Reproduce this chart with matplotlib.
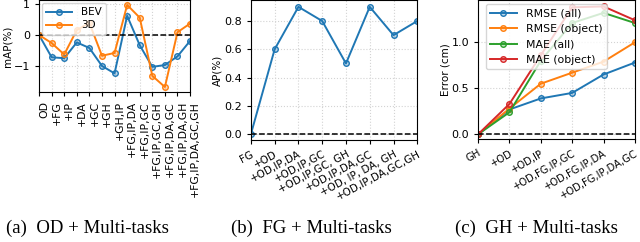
import matplotlib.pyplot as plt
import matplotlib.colors as mcolors

# (a) OD + multi-tasks
a_labels = ['OD', '+FG', '+IP', '+DA', '+GC', '+GH', '+GH,IP', '+FG,IP,DA',
            '+FG,IP,GC', '+FG,IP,GC,GH', '+FG,IP,DA,GC', '+FG,IP,DA,GH',
            '+FG,IP,DA,GC,GH']
a_bev = [0.0, -0.72, -0.75, -0.24, -0.42, -1.0, -1.24, 0.62, -0.33, -1.03,
         -0.97, -0.69, -0.19]
a_3d = [0.0, -0.26, -0.63, 0.16, 0.39, -0.67, -0.58, 0.97, 0.56, -1.32,
        -1.68, 0.09, 0.37]

# (b) FG + multi-tasks
b_labels = ['FG', '+OD', '+OD,IP,DA', '+OD,IP,GC', '+OD,IP,GC, GH',
            '+OD,IP,DA,GC', '+OD, IP, DA, GH', '+OD,IP,DA,GC,GH']
b_ap = [0.0, 0.6, 0.9, 0.8, 0.5, 0.9, 0.7, 0.8]

# (c) GH + multi-tasks
c_labels = ['GH', '+OD', '+OD,IP', '+OD,FG,IP,GC', '+OD,FG,IP,DA',
            '+OD,FG,IP,DA,GC']
c_rmse_all = [0.0, 0.27, 0.39, 0.45, 0.65, 0.78]
c_rmse_obj = [0.0, 0.28, 0.55, 0.67, 0.79, 1.0]
c_mae_all = [0.0, 0.24, 0.80, 1.21, 1.32, 1.21]
c_mae_obj = [0.0, 0.33, 0.86, 1.38, 1.39, 1.24]

fs = 7.5


def line(ax, y, color, label=None):
    ax.plot(range(len(y)), y, color=color, lw=1.4, marker='o', ms=4,
            mec=color, mfc=mcolors.to_rgba(color, 0.3), label=label)


def style(ax, labels, rot, ha, size=fs):
    ax.set_xticks(range(len(labels)))
    ax.set_xticklabels(labels, rotation=rot, ha=ha, rotation_mode='anchor',
                       fontsize=size)
    ax.tick_params(axis='y', labelsize=fs + 0.5, length=3)
    ax.tick_params(axis='x', length=3)
    ax.grid(True, ls=':', color='lightgray', lw=0.8)
    ax.axhline(0, color='black', ls='--', lw=1.1)
    ax.set_xlim(0, len(labels) - 1)


fig = plt.figure(figsize=(6.4, 2.42), dpi=100)

ax1 = fig.add_axes([0.061, 0.62, 0.236, 0.38])
line(ax1, a_bev, 'C0', 'BEV')
line(ax1, a_3d, 'C1', '3D')
style(ax1, a_labels, 90, 'right')
ax1.set_xticklabels(a_labels, rotation=90, fontsize=fs + 0.3)
ax1.set_ylim(-1.84, 1.13)
ax1.set_yticks([-1, 0, 1])
ax1.set_ylabel('mAP(%)', fontsize=fs, labelpad=1)
ax1.legend(loc='upper left', fontsize=fs, handlelength=2.5,
           borderaxespad=0.3, labelspacing=0.3)

ax2 = fig.add_axes([0.392, 0.422, 0.26, 0.576])
line(ax2, b_ap, 'C0')
style(ax2, b_labels, 28, 'right')
ax2.set_ylim(-0.04, 0.945)
ax2.set_yticks([0.0, 0.2, 0.4, 0.6, 0.8])
ax2.set_ylabel('AP(%)', fontsize=fs, labelpad=1)

ax3 = fig.add_axes([0.747, 0.426, 0.245, 0.574])
line(ax3, c_rmse_all, 'C0', 'RMSE (all)')
line(ax3, c_rmse_obj, 'C1', 'RMSE (object)')
line(ax3, c_mae_all, 'C2', 'MAE (all)')
line(ax3, c_mae_obj, 'C3', 'MAE (object)')
style(ax3, c_labels, 30, 'right', size=7.2)
ax3.set_ylim(-0.05, 1.46)
ax3.set_yticks([0.0, 0.5, 1.0])
ax3.set_ylabel('Error (cm)', fontsize=fs, labelpad=1)
ax3.legend(loc='upper left', fontsize=fs + 0.3, handlelength=2.5,
           borderaxespad=0.4, labelspacing=0.5, bbox_to_anchor=(0.02, 1.0))

for x, t in [(0.137, '(a)  OD + Multi-tasks'), (0.487, '(b)  FG + Multi-tasks'),
             (0.838, '(c)  GH + Multi-tasks')]:
    fig.text(x, 0.058, t, ha='center', va='center', fontsize=13.5,
             family='Liberation Serif')

plt.savefig('out.png', dpi=100)
